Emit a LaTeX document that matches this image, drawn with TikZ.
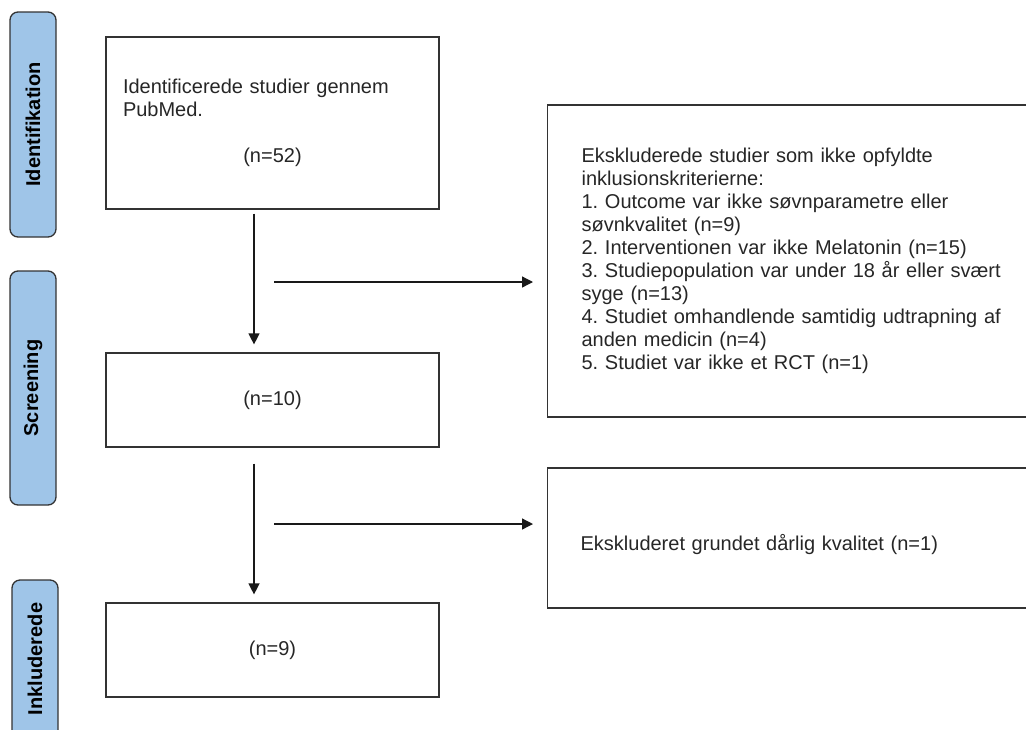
\documentclass[tikz,border=0pt]{standalone}
\usepackage{fontspec}
\setmainfont{Liberation Sans}
\usetikzlibrary{arrows.meta}
\frenchspacing

\begin{document}
\begin{tikzpicture}[x = 1pt, y = -1pt,
		phase/.style={draw=black!80, line width=1.3pt, fill=phaseBlue, rounded corners=8pt,
			rotate=90, inner sep=0pt, minimum height=46pt, font=\bfseries\fontsize{20}{23}\selectfont},
		stage/.style={draw=black!80, line width=1.2pt, inner sep=0pt, text=black!85,
			font=\fontsize{20}{23}\selectfont},
		flow/.style={-{Triangle[length=11pt, width=11pt]}, line width=1.3pt, black!90},
		]
	
		\definecolor{phaseBlue}{RGB}{159, 197, 232}
		
		% Frame of the picture
		\useasboundingbox (0, 0) rectangle (1026, 729);
		\clip (0, 0) rectangle (1026, 729);
		
		% Phase bars on the left
		\node[phase, minimum width=225pt] (phaseIdent) at (33, 124.5) {Identifikation};
		\node[phase, minimum width=234pt] (phaseScreen) at (33, 388) {Screening};
		\node[phase, minimum width=158pt] (phaseIncl) at (35, 659) {Inkluderede};
		
		% Main column
		\node[stage, minimum width=333pt, minimum height=172pt, inner xsep=17pt,
			text width=299pt, align=left] (identified) at (272.5, 123)
			{Identificerede studier gennem\\PubMed.\\[23pt]\makebox[299pt]{(n=52)}};
		\node[stage, minimum width=333pt, minimum height=94pt] (screened) at (272.5, 400) {(n=10)};
		\node[stage, minimum width=333pt, minimum height=94pt] (included) at (272.5, 650) {(n=9)};
		
		% Exclusion boxes
		\node[stage, anchor=west, minimum width=500pt, minimum height=312pt, inner xsep=34pt,
			text width=432pt, align=left] (excluded) at (547, 261)
			{Ekskluderede studier som ikke opfyldte\\
			inklusionskriterierne:\\
			1. Outcome var ikke søvnparametre eller\\
			søvnkvalitet (n=9)\\
			2. Interventionen var ikke Melatonin (n=15)\\
			3. Studiepopulation var under 18 år eller svært\\
			syge (n=13)\\
			4. Studiet omhandlende samtidig udtrapning af\\
			anden medicin (n=4)\\
			5. Studiet var ikke et RCT (n=1)};
		\node[stage, anchor=west, minimum width=500pt, minimum height=140pt, inner xsep=33pt,
			text width=434pt, align=left, text height=30pt] (lowQuality) at (547, 538)
			{Ekskluderet grundet dårlig kvalitet (n=1)};
		
		% Arrows
		\coordinate (flowX) at (254, 0);
		\coordinate (rowOne) at (274, 282);
		\coordinate (rowTwo) at (274, 524);
		
		\draw[flow, shorten <=4pt, shorten >=8pt] (identified.south -| flowX) -- (screened.north -| flowX);
		\draw[flow, shorten <=16pt, shorten >=8pt] (screened.south -| flowX) -- (included.north -| flowX);
		\draw[flow, shorten >=14pt] (rowOne) -- (excluded.west |- rowOne);
		\draw[flow, shorten >=14pt] (rowTwo) -- (lowQuality.west |- rowTwo);
		
	\end{tikzpicture}
\end{document}
